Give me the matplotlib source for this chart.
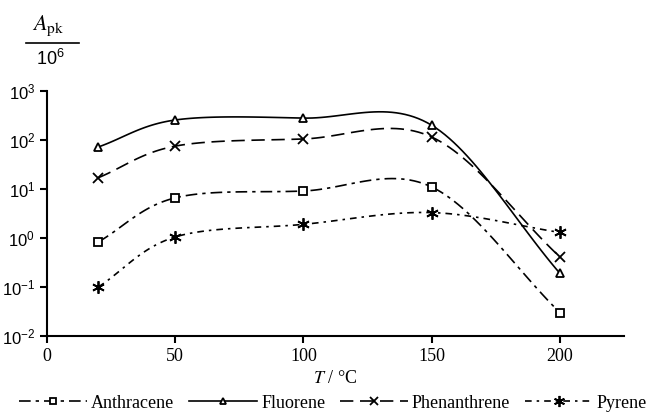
import matplotlib
matplotlib.use("Agg")
import matplotlib.pyplot as plt
import numpy as np
from matplotlib.ticker import FixedLocator, FixedFormatter

# Données
temps = [20, 50, 100, 150, 200]
anthracene = [0.83, 6.6, 9.1, 11.0, 0.03]
fluorene = [72, 256, 280, 200, 0.19]
phenanthrene = [17, 75, 105, 115, 0.41]
pyrene = [0.1, 1.05, 1.9, 3.3, 1.3]
names = ["Anthracene", "Fluorene", "Phenanthrene", "Pyrene"]
yticks = [1e-2, 1e-1, 1e0, 1e1, 1e2, 1e3]
ytick_labels = [r"$10^{-2}$", r"$10^{-1}$", r"$10^{0}$", r"$10^{1}$", r"$10^{2}$", r"$10^{3}$"]
xticks = [0, 50, 100, 150, 200]

plt.rcParams["mathtext.fontset"] = "custom"
plt.rcParams["mathtext.rm"] = "Liberation Sans"
plt.rcParams["mathtext.it"] = "Liberation Sans:italic"
plt.rcParams["mathtext.bf"] = "Liberation Sans:bold"


# Courbe lissée type Catmull-Rom (en x linéaire, y logarithmique)
def smooth(x, y, n=30):
    x = np.asarray(x, float)
    ly = np.log10(y)
    px = np.concatenate([[2 * x[0] - x[1]], x, [2 * x[-1] - x[-2]]])
    py = np.concatenate([[2 * ly[0] - ly[1]], ly, [2 * ly[-1] - ly[-2]]])
    xs, ys = [], []
    t = np.linspace(0, 1, n)
    for i in range(1, len(px) - 2):
        for p, out in ((px, xs), (py, ys)):
            p0, p1, p2, p3 = p[i - 1], p[i], p[i + 1], p[i + 2]
            out.append(0.5 * ((2 * p1) + (-p0 + p2) * t
                              + (2 * p0 - 5 * p1 + 4 * p2 - p3) * t**2
                              + (-p0 + 3 * p1 - 3 * p2 + p3) * t**3))
    return np.concatenate(xs), 10 ** np.concatenate(ys)


serif = ["Liberation Serif", "DejaVu Serif"]
sans = ["Liberation Sans", "DejaVu Sans"]

fig = plt.figure(figsize=(6.48, 4.15), dpi=100)
ax = fig.add_axes([47 / 648, 79 / 415, (624 - 47) / 648, (336 - 91) / 415])

styles = [
    (anthracene, "s", 6, (0, (7, 3, 2, 3))),
    (fluorene, "^", 6, "-"),
    (phenanthrene, "x", 7, (0, (8, 4))),
    (pyrene, (6, 2, 0), 9, (0, (4, 3, 1.5, 3))),
]
handles = []
for (vals, mk, size, ls), name in zip(styles, names):
    sx, sy = smooth(temps, vals)
    ax.plot(sx, sy, color="black", lw=1.2, ls=ls)
    ax.plot(temps, vals, ls="none", marker=mk, ms=size, mfc="white", mec="black", mew=1.3)
    h, = ax.plot([], [], color="black", lw=1.2, ls=ls, marker=mk, ms=size - 1,
                 mfc="white", mec="black", mew=1.3, label=name)
    handles.append(h)

ax.set_yscale("log")
ax.set_ylim(1e-2, 1e3)
ax.set_xlim(0, 225)
ax.yaxis.set_major_locator(FixedLocator(yticks))
ax.yaxis.set_major_formatter(FixedFormatter(ytick_labels))
ax.yaxis.set_minor_locator(FixedLocator([]))
ax.set_xticks(xticks)
ax.set_xticklabels([str(v) for v in xticks], family=serif, fontsize=13)
for lab in ax.get_yticklabels():
    lab.set_family(sans)
    lab.set_fontsize(12)
ax.spines["top"].set_visible(False)
ax.spines["right"].set_visible(False)
ax.spines["left"].set_linewidth(1.5)
ax.spines["bottom"].set_linewidth(1.5)
ax.tick_params(direction="out", length=5, width=1.5)

ax.set_xlabel(r"$T$ / °C", family=serif, fontsize=13, labelpad=4, math_fontfamily="stix")

# Titre de l'axe y : A_pk / 10^6
fig.text(48 / 648, 1 - 26 / 415, r"$A_{\mathrm{pk}}$", ha="center", va="center",
         fontsize=16, family=serif, math_fontfamily="stix")
fig.add_artist(plt.Line2D([26 / 648, 79 / 648], [1 - 43 / 415] * 2, color="black", lw=1.2))
fig.text(50 / 648, 1 - 59 / 415, r"$10^6$", ha="center", va="center", fontsize=13, family=sans)

fig.legend(handles=handles, loc="center", bbox_to_anchor=(333 / 648, 1 - 403 / 415), ncol=4,
           frameon=False, prop={"family": serif, "size": 13}, handlelength=3.8,
           columnspacing=0.8, handletextpad=0.2, borderaxespad=0, borderpad=0)

fig.savefig("out.png", dpi=100)
